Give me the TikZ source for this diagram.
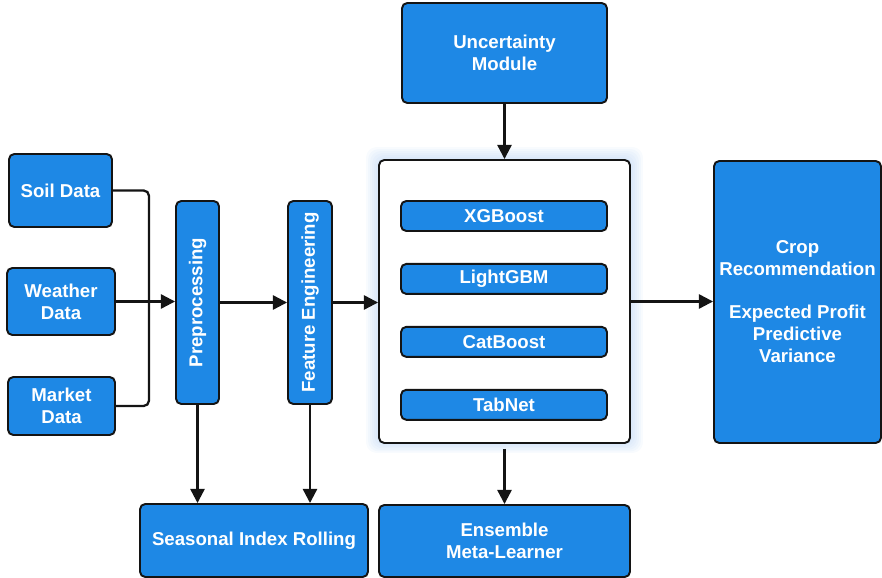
\documentclass[tikz,border=0pt]{standalone}
\usepackage{fontspec}
\setmainfont{Liberation Sans}
\usepackage{graphicx}
\usepackage{xcolor}
\usepackage{tikz}
\usetikzlibrary{arrows.meta,positioning,calc,backgrounds}
\definecolor{boxblue}{HTML}{1E88E5}
\definecolor{edgedark}{HTML}{141414}
\definecolor{glowblue}{HTML}{9CC2F0}

\begin{document}
\begin{tikzpicture}[font=\bfseries\fontsize{10.6}{12.5}\selectfont,node distance=0.62cm]
        \tikzstyle{blk}=[draw=edgedark,line width=1.1pt,rounded corners=3pt,align=center,fill=boxblue,text=white,inner sep=2pt]
        \tikzstyle{mdl}=[blk,minimum width=4.12cm,minimum height=0.6cm]
        \tikzstyle{arr}=[line width=1.3pt,draw=edgedark,-{Triangle[length=8pt,width=8pt]}]
        \tikzstyle{ln}=[line width=1.3pt,draw=edgedark]
        \useasboundingbox (0,0) rectangle (17.64,-11.56);
        % inputs
        \node[blk,minimum width=2.06cm,minimum height=1.46cm] (soil) at (1.21,-3.81) {Soil Data};
        \node[blk,minimum width=2.16cm,minimum height=1.34cm] (weather) at (1.22,-6.03) {Weather\\Data};
        \node[blk,minimum width=2.14cm,minimum height=1.16cm] (market) at (1.23,-8.12) {Market\\Data};
        % vertical stages
        \node[blk,minimum width=0.86cm,minimum height=4.06cm] (prep) at (3.95,-6.05) {\rotatebox{90}{Preprocessing}};
        \node[blk,minimum width=0.88cm,minimum height=4.06cm] (feat) at (6.20,-6.05) {\rotatebox{90}{Feature Engineering}};
        % model container
        \node[draw=edgedark,line width=1.1pt,rounded corners=3pt,fill=white,minimum width=5.02cm,minimum height=5.66cm] (cont) at (10.09,-6.03) {};
        \node[mdl] (xgb) at (10.08,-4.32) {XGBoost};
        \node[mdl,below=of xgb] (lgbm) {LightGBM};
        \node[mdl,below=of lgbm] (cat) {CatBoost};
        \node[mdl,below=of cat] (tab) {TabNet};
        \node[blk,minimum width=4.10cm,minimum height=2.00cm] (unc) at (10.09,-1.06) {Uncertainty\\Module};
        \node[blk,minimum width=3.34cm,minimum height=5.64cm] (crop) at (15.95,-6.04) {Crop\\Recommendation\\[12pt]Expected Profit\\Predictive\\Variance};
        \node[blk,minimum width=4.56cm,minimum height=1.46cm] (seas) at (5.08,-10.81) {Seasonal Index Rolling};
        \node[blk,minimum width=5.02cm,minimum height=1.44cm] (ens) at (10.09,-10.82) {Ensemble\\Meta-Learner};
        % glow behind the container
        \begin{scope}[on background layer]
          \foreach \i in {1,...,6}
            \fill[glowblue,opacity=0.07,rounded corners=6pt] ($(cont.south west)+(-\i*0.04,-\i*0.03)$) rectangle ($(cont.north east)+(\i*0.04,\i*0.04)$);
        \end{scope}
        % connectors
        \coordinate (bus) at ($(weather.east)+(0.66,0)$);
        \draw[ln,rounded corners=3pt] (soil.east) -| (bus);
        \draw[ln,rounded corners=3pt] (market.east) -| (bus);
        \draw[arr] (weather.east) -- (weather.east -| prep.west);
        \draw[arr] (prep) -- (feat);
        \draw[arr] (feat.east) -- (feat.east -| cont.west);
        \draw[arr] (cont.east) -- (cont.east -| crop.west);
        \draw[arr] (unc) -- (cont);
        \draw[arr] ([yshift=-0.1cm]cont.south) -- (ens);
        \draw[arr] (prep.south) -- (prep.south |- seas.north);
        \draw[arr] (feat.south) -- (feat.south |- seas.north);
      \end{tikzpicture}
\end{document}
